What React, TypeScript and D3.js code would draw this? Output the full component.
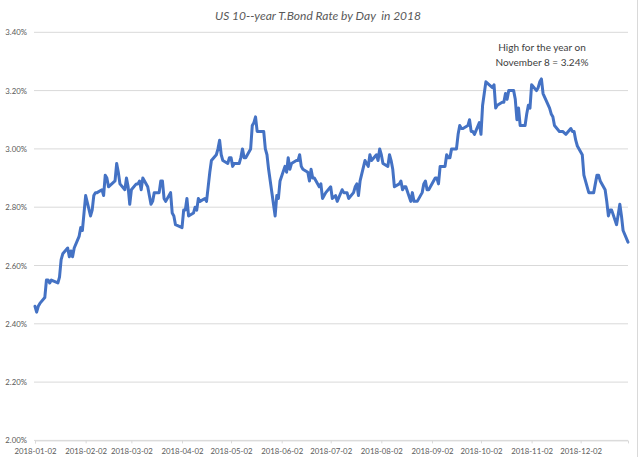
import React, { useEffect, useRef } from 'react';
import * as d3 from 'd3';

// trading days of 2018 (MM-DD) and the 10-year rate on each, one month per line
const tradeDays = [
  '01-02','01-03','01-04','01-05','01-08','01-09','01-10','01-11','01-12','01-16','01-17','01-18','01-19','01-22','01-23','01-24','01-25','01-26','01-29','01-30','01-31',
  '02-01','02-02','02-05','02-06','02-07','02-08','02-09','02-12','02-13','02-14','02-15','02-16','02-20','02-21','02-22','02-23','02-26','02-27','02-28',
  '03-01','03-02','03-05','03-06','03-07','03-08','03-09','03-12','03-13','03-14','03-15','03-16','03-19','03-20','03-21','03-22','03-23','03-26','03-27','03-28','03-29',
  '04-02','04-03','04-04','04-05','04-06','04-09','04-10','04-11','04-12','04-13','04-16','04-17','04-18','04-19','04-20','04-23','04-24','04-25','04-26','04-27','04-30',
  '05-01','05-02','05-03','05-04','05-07','05-08','05-09','05-10','05-11','05-14','05-15','05-16','05-17','05-18','05-21','05-22','05-23','05-24','05-25','05-29','05-30','05-31',
  '06-01','06-04','06-05','06-06','06-07','06-08','06-11','06-12','06-13','06-14','06-15','06-18','06-19','06-20','06-21','06-22','06-25','06-26','06-27','06-28','06-29',
  '07-02','07-03','07-05','07-06','07-09','07-10','07-11','07-12','07-13','07-16','07-17','07-18','07-19','07-20','07-23','07-24','07-25','07-26','07-27','07-30','07-31',
  '08-01','08-02','08-03','08-06','08-07','08-08','08-09','08-10','08-13','08-14','08-15','08-16','08-17','08-20','08-21','08-22','08-23','08-24','08-27','08-28','08-29','08-30','08-31',
  '09-04','09-05','09-06','09-07','09-10','09-11','09-12','09-13','09-14','09-17','09-18','09-19','09-20','09-21','09-24','09-25','09-26','09-27','09-28',
  '10-01','10-02','10-03','10-04','10-05','10-09','10-10','10-11','10-12','10-15','10-16','10-17','10-18','10-19','10-22','10-23','10-24','10-25','10-26','10-29','10-30','10-31',
  '11-01','11-02','11-05','11-06','11-07','11-08','11-09','11-13','11-14','11-15','11-16','11-19','11-20','11-21','11-23','11-26','11-27','11-28','11-29','11-30',
  '12-03','12-04','12-06','12-07','12-10','12-11','12-12','12-13','12-14','12-17','12-18','12-19','12-20','12-21','12-24','12-26','12-27','12-28','12-31',
];

const rates = [
  2.46,2.44,2.46,2.47,2.49,2.55,2.55,2.54,2.55,2.54,2.56,2.62,2.64,2.66,2.63,2.65,2.63,2.66,2.70,2.73,2.72,
  2.78,2.84,2.77,2.79,2.84,2.85,2.85,2.86,2.84,2.91,2.90,2.87,2.89,2.95,2.92,2.88,2.86,2.90,2.87,
  2.81,2.86,2.88,2.88,2.89,2.86,2.90,2.87,2.84,2.81,2.82,2.85,2.85,2.89,2.89,2.83,2.82,2.85,2.78,2.77,2.74,
  2.73,2.79,2.79,2.83,2.77,2.78,2.80,2.79,2.83,2.82,2.83,2.82,2.87,2.92,2.96,2.98,3.00,3.03,2.98,2.96,2.95,
  2.97,2.97,2.94,2.95,2.95,2.97,3.00,2.97,2.97,3.00,3.08,3.09,3.11,3.06,3.06,3.06,3.00,2.98,2.93,2.77,2.84,2.83,
  2.89,2.94,2.92,2.97,2.93,2.95,2.96,2.96,2.98,2.94,2.93,2.92,2.89,2.93,2.90,2.90,2.87,2.88,2.83,2.84,2.85,
  2.87,2.83,2.84,2.82,2.86,2.85,2.85,2.85,2.83,2.85,2.87,2.88,2.84,2.89,2.96,2.95,2.94,2.98,2.96,2.98,2.96,
  3.00,2.98,2.95,2.94,2.98,2.96,2.93,2.87,2.88,2.89,2.86,2.87,2.87,2.82,2.85,2.82,2.82,2.82,2.85,2.88,2.89,2.86,2.86,
  2.90,2.90,2.88,2.94,2.94,2.98,2.97,2.97,3.00,3.00,3.05,3.08,3.07,3.07,3.08,3.10,3.06,3.06,3.05,
  3.09,3.05,3.15,3.19,3.23,3.21,3.22,3.14,3.15,3.16,3.16,3.19,3.17,3.20,3.20,3.17,3.10,3.14,3.08,3.08,3.12,3.15,
  3.14,3.22,3.20,3.21,3.23,3.24,3.19,3.14,3.12,3.11,3.08,3.06,3.06,3.06,3.05,3.07,3.06,3.06,3.03,3.01,
  2.98,2.91,2.87,2.85,2.85,2.88,2.91,2.91,2.89,2.86,2.82,2.77,2.79,2.79,2.74,2.81,2.77,2.72,2.68,
];

const xTickLabels = [
  '2018-01-02','2018-02-02','2018-03-02','2018-04-02','2018-05-02','2018-06-02',
  '2018-07-02','2018-08-02','2018-09-02','2018-10-02','2018-11-02','2018-12-02',
];
const yTicks = [2.0, 2.2, 2.4, 2.6, 2.8, 3.0, 3.2, 3.4];

const title = 'US 10--year T.Bond Rate by Day\u00a0\u00a0in 2018';
const noteLines = ['High for the year on', 'November 8 = 3.24%'];

const FONT = 'Lato, "Open Sans", sans-serif';

const App: React.FC = () => {
  const svgRef = useRef<SVGSVGElement>(null);

  useEffect(() => {
    document.body.style.margin = '0';
    if (!svgRef.current) return;
    const svg = d3.select(svgRef.current);
    svg.selectAll('*').remove();

    const parse = d3.utcParse('%Y-%m-%d');
    const data = tradeDays.map((d, i) => ({ date: parse('2018-' + d) as Date, v: rates[i] }));

    const x = d3.scaleUtc()
      .domain([parse('2018-01-02') as Date, parse('2018-12-31') as Date])
      .range([35, 628]);
    const y = d3.scaleLinear().domain([2.0, 3.4]).range([440.4, 32.3]);

    // chart area border (right edge)
    svg.append('line')
      .attr('x1', 637.5).attr('x2', 637.5).attr('y1', 0).attr('y2', 457)
      .attr('stroke', '#d9d9d9');

    // horizontal gridlines
    svg.append('g')
      .selectAll('line')
      .data(yTicks)
      .join('line')
      .attr('x1', 34).attr('x2', 628)
      .attr('y1', d => y(d)).attr('y2', d => y(d))
      .attr('stroke', '#d9d9d9').attr('stroke-width', 1);

    // y axis labels
    const yAxis = svg.append('g')
      .attr('transform', 'translate(27,0)')
      .call(d3.axisLeft(y).tickValues(yTicks).tickSize(0).tickPadding(0)
        .tickFormat(d => (d as number).toFixed(2) + '%'));
    yAxis.select('.domain').remove();
    yAxis.selectAll('text')
      .attr('font-family', FONT).attr('font-size', 7.8).attr('fill', '#595959');

    // x axis
    const xAxis = svg.append('g')
      .attr('transform', `translate(0,${y(2.0)})`)
      .call(d3.axisBottom(x).tickValues(xTickLabels.map(s => parse(s) as Date))
        .tickSize(3).tickPadding(5).tickFormat(d => d3.utcFormat('%Y-%m-%d')(d as Date)));
    xAxis.select('.domain').attr('stroke', '#d9d9d9');
    xAxis.selectAll('line').attr('stroke', '#d9d9d9');
    xAxis.selectAll('text')
      .attr('font-family', FONT).attr('font-size', 7.8).attr('fill', '#595959');

    // rate line
    const line = d3.line<{ date: Date; v: number }>()
      .x(d => x(d.date))
      .y(d => y(d.v));
    svg.append('path')
      .datum(data)
      .attr('fill', 'none')
      .attr('stroke', '#4472c4')
      .attr('stroke-width', 3)
      .attr('stroke-linejoin', 'round')
      .attr('stroke-linecap', 'round')
      .attr('d', line);

    // title
    svg.append('text')
      .attr('x', 318).attr('y', 20)
      .attr('text-anchor', 'middle')
      .attr('font-family', FONT).attr('font-style', 'italic')
      .attr('font-size', 12).attr('fill', '#595959')
      .text(title);

    // annotation
    svg.append('text')
      .attr('text-anchor', 'middle')
      .attr('font-family', FONT).attr('font-size', 10).attr('fill', '#404040')
      .selectAll('tspan')
      .data(noteLines)
      .join('tspan')
      .attr('x', 542)
      .attr('y', (_, i) => 51 + i * 15)
      .text(d => d);
  }, []);

  return (
    <svg ref={svgRef} width={640} height={461} style={{ display: 'block', background: '#fff' }} />
  );
};

export default App;
